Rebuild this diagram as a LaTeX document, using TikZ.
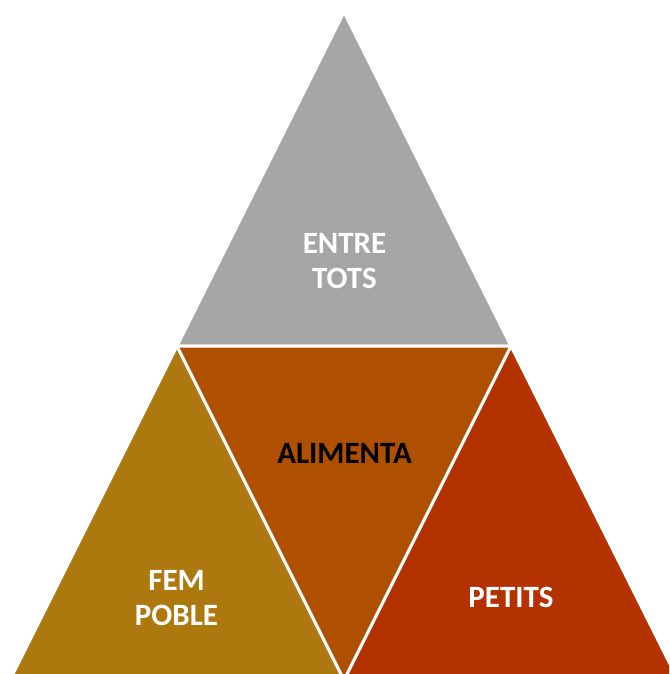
\documentclass[tikz,border=0pt]{standalone}
\usepackage{fontspec}
\setmainfont{Carlito}
\definecolor{cgray}{RGB}{165,165,165}
\definecolor{cleft}{RGB}{173,120,14}
\definecolor{cmid}{RGB}{175,80,0}
\definecolor{cright}{RGB}{180,50,0}
\tikzset{
  tri/.style={draw=white, line width=3pt, line join=miter},
  lbl/.style={font=\fontsize{31}{35}\selectfont\bfseries, align=center, inner sep=0pt, text=white},
}
\begin{document}
\begin{tikzpicture}[x=1pt, y=-1pt]
\useasboundingbox (0,0) rectangle (669,674);
\clip (0,0) rectangle (669,674);
\fill[white] (0,0) rectangle (669,674);
\coordinate (top) at (344,12);
\coordinate (ml) at (177,346);
\coordinate (mr) at (511,346);
\coordinate (bm) at (344,680);
\coordinate (bl) at (10,680);
\coordinate (br) at (678,680);
\filldraw[tri, fill=cgray] (top) -- (ml) -- (mr) -- cycle;
\filldraw[tri, fill=cleft] (ml) -- (bl) -- (bm) -- cycle;
\filldraw[tri, fill=cright] (mr) -- (bm) -- (br) -- cycle;
\filldraw[tri, fill=cmid] (ml) -- (mr) -- (bm) -- cycle;
\node[lbl] (entre) at (344.5,261.5) {ENTRE\\TOTS};
\node[lbl, text=black] (alimenta) at (344.5,453.5) {ALIMENTA};
\node[lbl] (fem) at (176.5,598) {FEM\\POBLE};
\node[lbl] (petits) at (511,597.5) {PETITS};
\end{tikzpicture}
\end{document}
